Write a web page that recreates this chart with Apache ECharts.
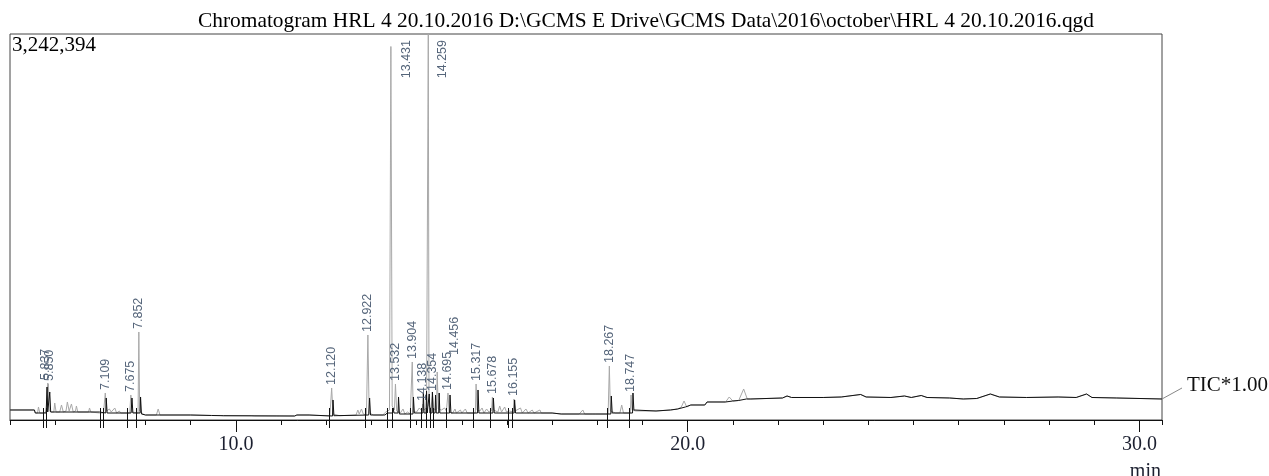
<!DOCTYPE html>
<html><head><meta charset="utf-8">
<script src="https://cdn.jsdelivr.net/npm/echarts@6/dist/echarts.min.js"></script>
<style>html,body{margin:0;padding:0;background:#fff}#c{width:1269px;height:476px}</style>
</head><body><div id="c"></div>
<script>
// ---------------- data ----------------
const titleText = "Chromatogram HRL 4 20.10.2016 D:\\GCMS E Drive\\GCMS Data\\2016\\october\\HRL 4 20.10.2016.qgd";
const maxIntensity = 3242394;
const xMin = 5.0, xMax = 30.5;
const majorTickValues = [10, 20, 30];
const xAxisUnit = "min";
const traceName = "TIC*1.00";

const peakTimes   = [5.837, 5.850, 7.109, 7.675, 7.852, 12.120, 12.922, 13.431, 13.532, 13.904, 14.138, 14.259, 14.354, 14.456, 14.695, 15.317, 15.678, 16.155, 18.267, 18.747];
const peakHeights = [310800, 302400, 226800, 210000, 739200, 268800, 714000, 3137400, 302400, 487200, 134400, 3242394, 218400, 403200, 226800, 302400, 193200, 176400, 453600, 210000];

const boundaryTimes = [5.72, 5.79, 7.00, 7.05, 7.60, 7.78, 12.07, 12.86, 13.35, 13.45, 13.86, 14.10, 14.20, 14.30, 14.37, 14.65, 15.25, 15.63, 16.02, 16.11, 18.22, 18.71];

const greyEarly = [[5.00,84000],[5.54,84000],[5.56,58800],[5.61,58800],[5.63,109200],[5.66,58800],[5.72,58800],[5.80,67200],[5.837,310800],[5.845,126000],[5.850,302400],[5.87,75600],[5.92,67200],[5.97,67200],[5.99,142800],[6.02,67200],[6.10,67200],[6.14,126000],[6.18,67200],[6.24,75600],[6.27,151200],[6.31,75600],[6.36,134400],[6.40,67200],[6.45,75600],[6.47,117600],[6.50,67200],[6.74,67200],[6.76,100800],[6.79,67200],[6.98,58800],[7.07,58800],[7.109,226800],[7.14,75600],[7.20,92400],[7.24,67200],[7.32,100800],[7.36,58800],[7.42,75600],[7.45,58800],[7.65,58800],[7.675,210000],[7.70,67200],[7.835,58800],[7.852,739200],[7.87,75600],[7.95,50400],[8.00,42000],[8.24,42000],[8.28,92400],[8.32,42000],[9.00,42000]];
const greyMid = [[9.00,42000],[9.46,38000],[9.49,50400],[9.52,38000],[9.66,38000],[9.69,50400],[9.72,36000],[10.35,36000],[10.38,48000],[10.41,33600],[10.90,33600],[10.93,46000],[10.96,33600],[11.30,33600],[11.35,42000],[11.62,42000],[11.65,33600],[12.08,33600],[12.120,268800],[12.15,50400],[12.30,36000],[12.66,42000],[12.70,84000],[12.73,50400],[12.78,92400],[12.82,50400],[12.89,42000],[12.922,714000],[12.95,58800],[13.05,42000],[13.25,42000],[13.32,67200],[13.40,84000],[13.431,3137400],[13.46,117600],[13.51,84000],[13.532,302400],[13.56,75600],[13.64,58800],[13.70,92400],[13.74,50400],[13.80,67200],[13.86,50400],[13.89,50400],[13.904,487200],[13.925,67200],[14.00,67200],[14.06,100800],[14.12,75600],[14.138,134400],[14.16,84000],[14.22,100800],[14.245,100800],[14.259,3242394],[14.275,117600],[14.32,100800],[14.354,218400],[14.38,92400],[14.42,92400],[14.44,84000],[14.456,403200],[14.48,92400],[14.55,84000],[14.62,100800],[14.66,75600],[14.68,75600],[14.695,226800],[14.72,67200],[14.80,58800],[14.85,92400],[14.88,58800],[14.97,84000],[15.00,58800],[15.08,92400],[15.12,58800],[15.30,58800],[15.317,302400],[15.34,84000],[15.40,75600],[15.45,100800],[15.49,58800],[15.55,92400],[15.60,67200],[15.66,75600],[15.678,193200],[15.70,84000],[15.80,67200],[15.84,117600],[15.88,67200],[15.95,109200],[15.99,67200],[16.05,75600],[16.14,67200],[16.155,176400],[16.18,75600],[16.30,100800],[16.34,58800],[16.42,92400],[16.47,58800],[16.56,84000],[16.60,58800],[16.73,84000],[16.76,58800],[17.00,58800]];
const greyLate = [[17.00,58800],[17.20,50400],[17.60,50400],[17.68,84000],[17.72,50400],[17.90,50400],[17.93,67200],[17.96,50400],[18.24,50400],[18.267,453600],[18.29,75600],[18.40,58800],[18.50,58800],[18.54,126000],[18.58,58800],[18.73,58800],[18.747,210000],[18.77,84000],[18.85,75600],[19.30,75600],[19.62,84000],[19.78,92400],[19.86,109200],[19.92,159600],[19.98,109200],[20.07,126000],[20.38,126000],[20.43,151200],[20.84,151200],[20.92,193200],[21.00,159600],[21.13,163800],[21.24,260400],[21.32,176400],[21.40,176400]];
const traceTail = [[21.40,176400],[22.10,184800],[22.20,201600],[22.30,189000],[23.00,189000],[23.40,193200],[23.83,214200],[23.95,193200],[24.50,189000],[24.80,201600],[24.95,189000],[25.17,205800],[25.30,189000],[25.80,184800],[26.10,176400],[26.40,180600],[26.70,218400],[26.90,193200],[27.50,189000],[28.20,193200],[28.60,189000],[28.83,218400],[28.95,189000],[29.50,184800],[30.50,176400]];

const blackEarly = [[5.00,84000],[5.54,84000],[5.56,58800],[5.80,58800],[5.82,277200],[5.835,67200],[5.87,67200],[5.88,235200],[5.90,67200],[6.98,67200],[7.00,58800],[7.12,58800],[7.13,184800],[7.15,58800],[7.68,58800],[7.70,184800],[7.72,58800],[7.88,58800],[7.89,193200],[7.91,50400],[8.00,42000],[9.00,42000]];
const blackMid = [[9.00,42000],[9.46,38000],[9.72,36000],[11.30,33600],[11.35,42000],[11.62,42000],[11.65,33600],[12.14,33600],[12.15,168000],[12.17,36000],[12.94,42000],[12.96,184800],[12.98,42000],[13.30,42000],[13.35,58800],[13.47,58800],[13.48,100800],[13.50,58800],[13.59,58800],[13.60,193200],[13.62,50400],[13.92,50400],[13.93,193200],[13.95,58800],[14.14,58800],[14.15,226800],[14.165,58800],[14.21,58800],[14.22,243600],[14.235,58800],[14.27,58800],[14.28,218400],[14.295,58800],[14.34,58800],[14.35,235200],[14.365,58800],[14.41,58800],[14.42,210000],[14.435,58800],[14.49,58800],[14.50,226800],[14.515,58800],[14.73,58800],[14.74,210000],[14.76,58800],[15.35,58800],[15.36,252000],[15.38,58800],[15.69,58800],[15.70,184800],[15.72,58800],[16.16,58800],[16.17,168000],[16.19,58800],[17.00,58800]];
const blackLate = [[17.00,58800],[17.20,50400],[18.30,50400],[18.31,201600],[18.33,58800],[18.78,58800],[18.79,226800],[18.81,84000],[18.85,75600],[19.30,75600],[19.62,84000],[19.78,92400],[19.95,109200],[20.07,126000],[20.38,126000],[20.43,151200],[20.84,151200],[21.00,159600],[21.13,163800],[21.30,176400],[21.40,176400]];

// ---------------- styles ----------------
const labelShift = { '5.837': {dx: -2}, '5.850': {dx: 1}, '13.431': {dx: 16, top: true}, '14.259': {dx: 14, top: true}, '14.456': {dx: 17, dy: -14} };
const serif = '"Liberation Serif", "Times New Roman", serif';
const sans = '"Liberation Sans", Arial, sans-serif';

const chart = echarts.init(document.getElementById('c'), null, {renderer: 'canvas'});
const greyTrace = greyEarly.concat(greyMid, greyLate, traceTail);
const blackTrace = blackEarly.concat(blackMid, blackLate, traceTail);

chart.setOption({
  animation: false,
  backgroundColor: '#fff',
  title: { text: titleText, left: 198, top: 11, padding: 0,
    textStyle: { fontFamily: serif, fontSize: 21.4, fontWeight: 'normal', color: '#000' } },
  grid: { left: 10, right: 107, top: 34, bottom: 56, show: true, borderColor: '#444', borderWidth: 1 },
  xAxis: [
    { type: 'value', min: xMin, max: xMax, interval: 1,
      axisLine: { show: true, onZero: false, lineStyle: { color: '#111', width: 1 } },
      axisTick: { show: true, length: 5, lineStyle: { color: '#111' } },
      axisLabel: { customValues: majorTickValues, formatter: v => Number(v).toFixed(1), margin: 15,
        fontFamily: serif, fontSize: 20, color: '#1c2030' },
      splitLine: { show: false } },
    { type: 'value', min: xMin, max: xMax, position: 'bottom', offset: 0,
      axisLine: { show: false },
      axisTick: { show: true, customValues: majorTickValues, length: 12, lineStyle: { color: '#111' } },
      axisLabel: { show: false }, splitLine: { show: false } }
  ],
  yAxis: { type: 'value', min: 0, max: maxIntensity, show: false, splitLine: { show: false } },
  series: [
    { type: 'line', name: 'peaks', data: greyTrace, symbol: 'none', z: 2,
      lineStyle: { color: '#a8a8a8', width: 1 } },
    { type: 'line', name: traceName, data: blackTrace, symbol: 'none', z: 3,
      lineStyle: { color: '#111', width: 1 } },
    { type: 'custom', name: 'boundaries', clip: false, z: 4,
      data: boundaryTimes.map(t => [t, 0]),
      renderItem: (params, api) => {
        const p = api.coord([api.value(0), 0]);
        const x = Math.round(p[0]) + 0.5;
        return { type: 'line', shape: { x1: x, y1: p[1] - 12, x2: x, y2: p[1] + 8 },
          style: { stroke: '#111', lineWidth: 1 } };
      } },
    { type: 'custom', name: 'labels', clip: false, z: 5,
      data: peakTimes.map((t, i) => [t, peakHeights[i], i]),
      encode: { x: 0, y: 1 },
      renderItem: (params, api) => {
        const i = api.value(2);
        const txt = peakTimes[i].toFixed(3);
        const p = api.coord([api.value(0), api.value(1)]);
        const s = labelShift[txt] || {};
        let x = p[0] + (s.dx || 0), y, align;
        if (s.top) { y = params.coordSys.y + 6; align = 'right'; }
        else { y = p[1] - 3 + (s.dy || 0); align = 'left'; }
        return { type: 'text', x: x, y: y, rotation: Math.PI / 2,
          style: { text: txt, fill: '#55657a', fontSize: 12.5, fontFamily: sans, align: align, verticalAlign: 'middle' } };
      } }
  ]
});

const last = traceTail[traceTail.length - 1];
const endPt = chart.convertToPixel({ xAxisIndex: 0, yAxisIndex: 0 }, last);
const tickPt = chart.convertToPixel({ xAxisIndex: 0, yAxisIndex: 0 }, [majorTickValues[majorTickValues.length - 1], 0]);
chart.setOption({
  graphic: [
    { type: 'text', left: 12, top: 35, style: { text: String(maxIntensity.toLocaleString('en-US')), fontFamily: serif, fontSize: 21, fill: '#000' } },
    { type: 'line', shape: { x1: endPt[0], y1: endPt[1], x2: endPt[0] + 20, y2: endPt[1] - 11 }, style: { stroke: '#888', lineWidth: 1 } },
    { type: 'text', x: endPt[0] + 25, y: endPt[1] - 14, style: { text: traceName, fontFamily: serif, fontSize: 21, fill: '#111', verticalAlign: 'middle', align: 'left' } },
    { type: 'text', x: tickPt[0] + 6, y: tickPt[1] + 52, style: { text: xAxisUnit, fontFamily: serif, fontSize: 20, fill: '#1c2030', align: 'center', verticalAlign: 'middle' } }
  ]
});
</script></body></html>
